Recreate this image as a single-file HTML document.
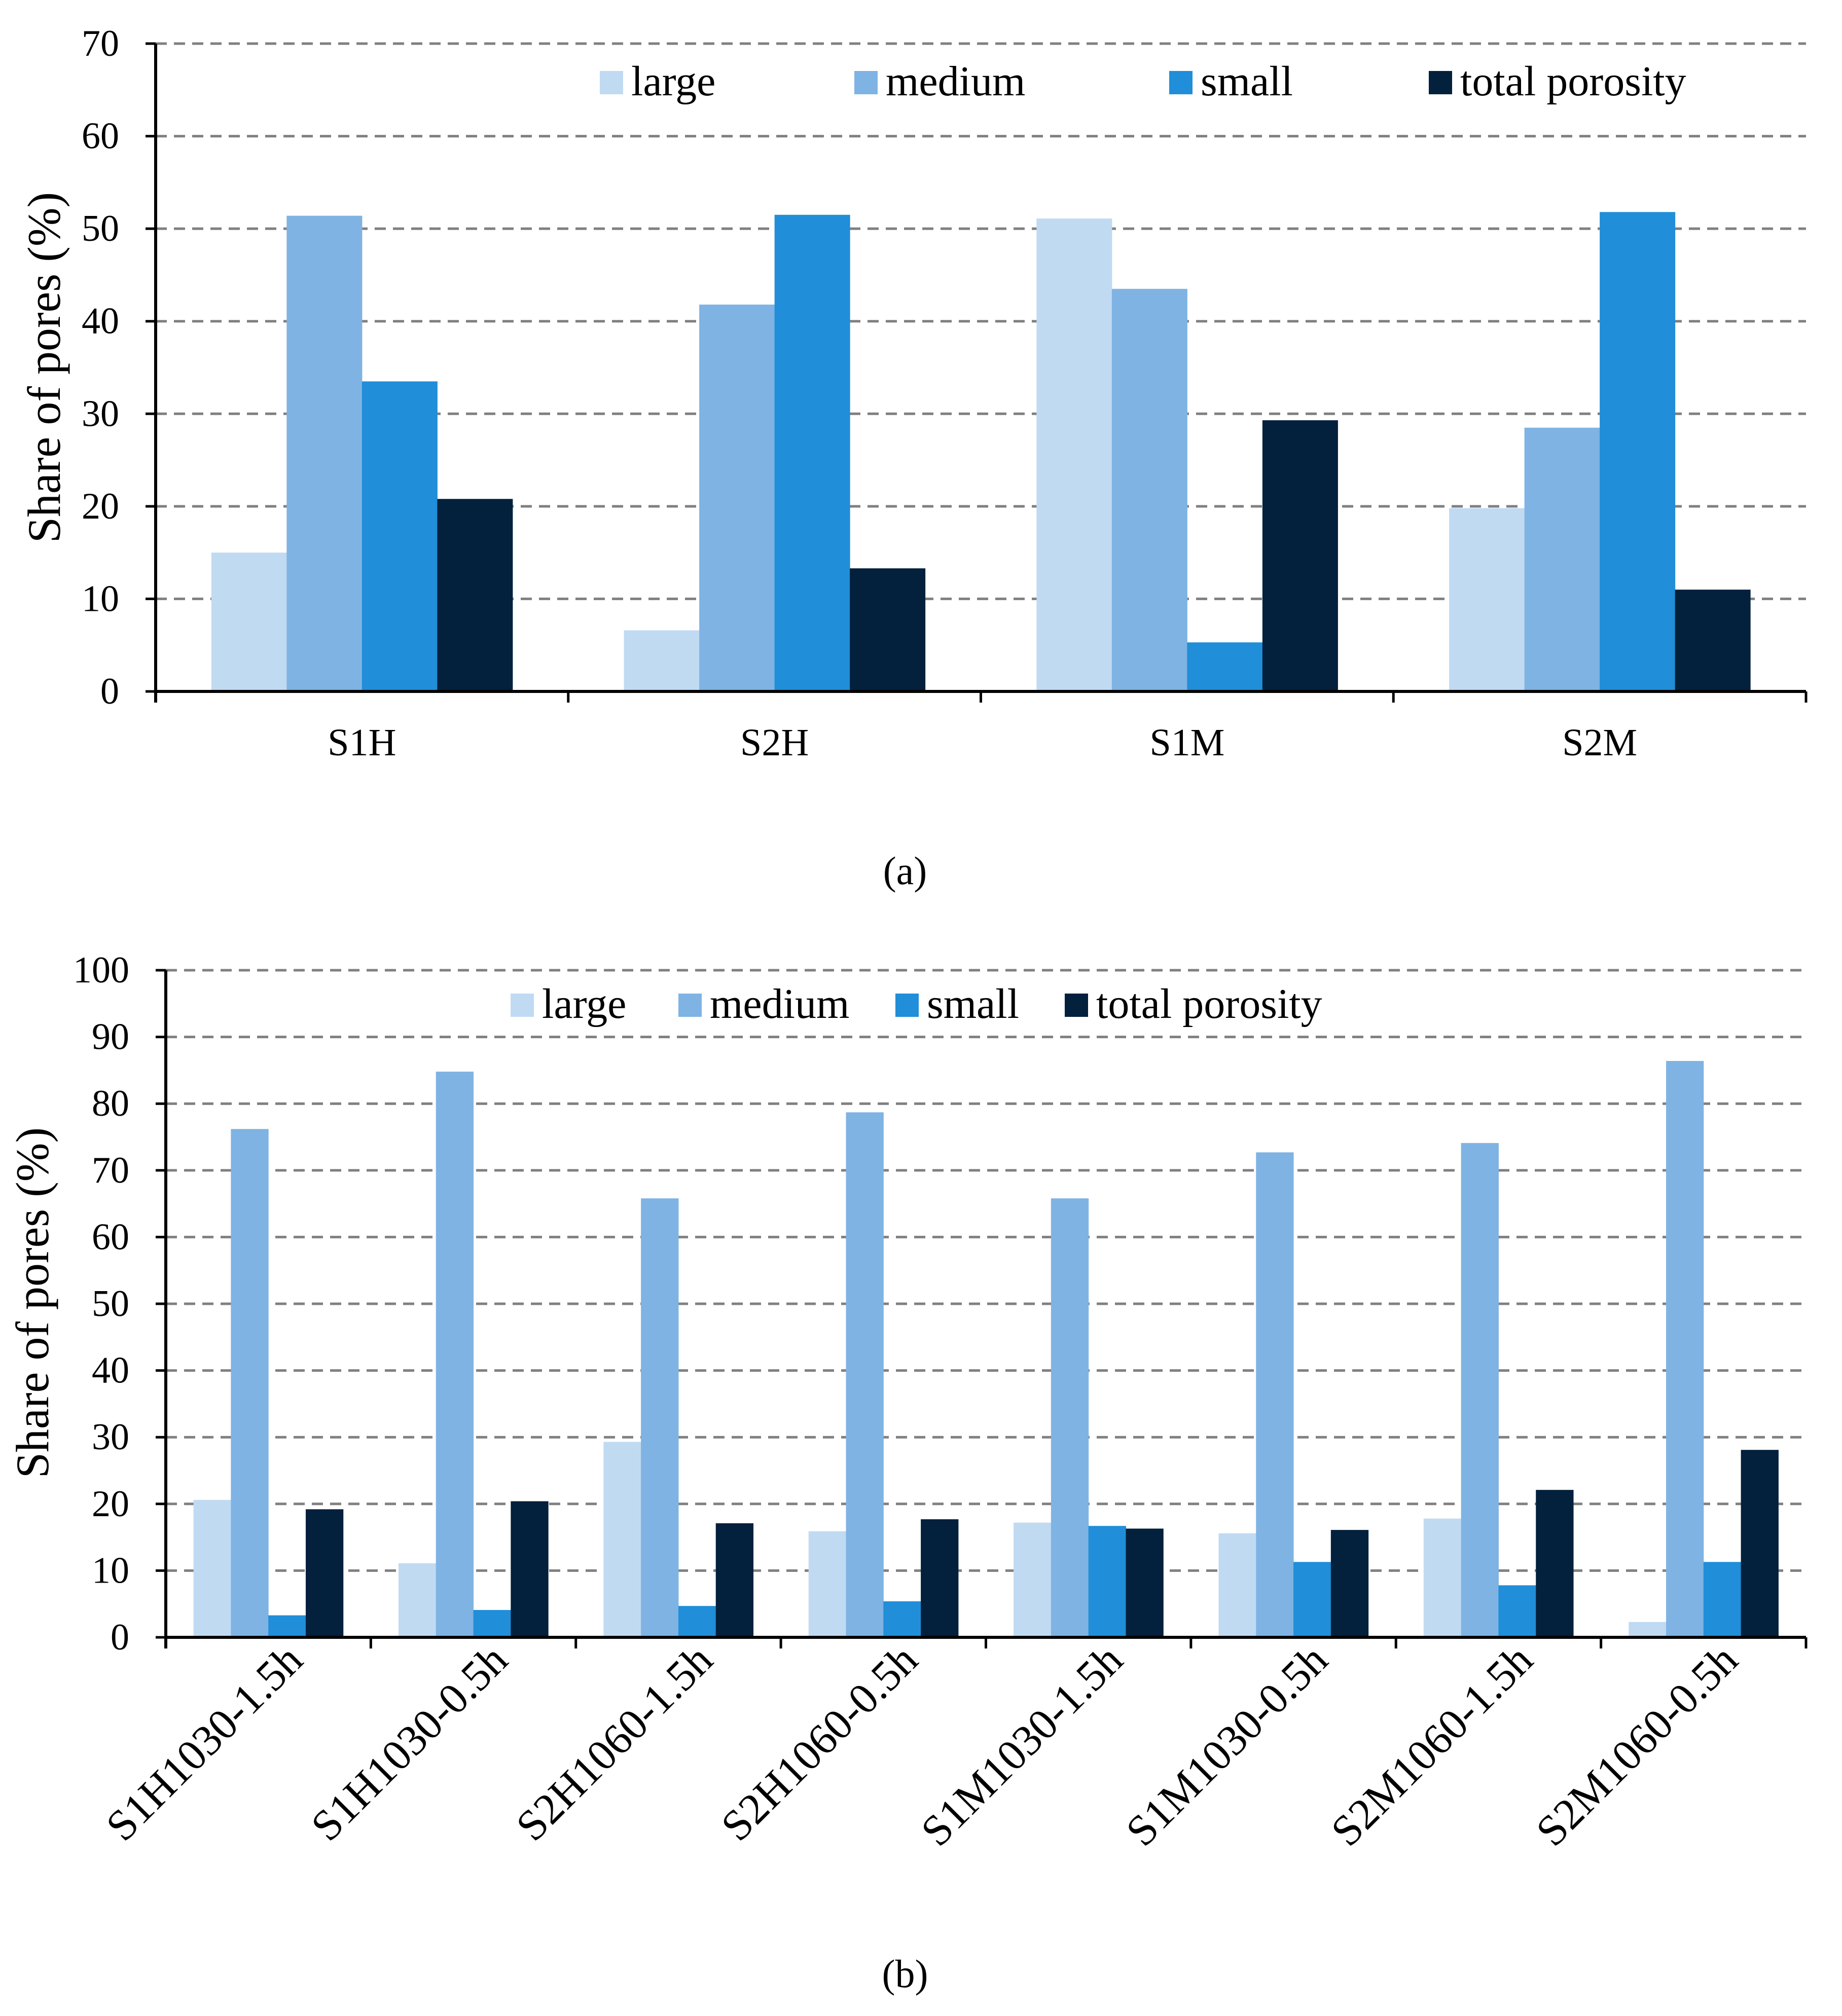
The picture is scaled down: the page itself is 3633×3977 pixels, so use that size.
<!DOCTYPE html>
<html><head><meta charset="utf-8"><style>
html,body{margin:0;padding:0;background:#fff}
svg{display:block}
text{font-family:"Liberation Serif",serif;fill:#000}
</style></head><body>
<svg id="svg" width="3633" height="3977" viewBox="0 0 3633 3977" xmlns="http://www.w3.org/2000/svg"></svg>
<script>
const seriesNames = ["large","medium","small","total porosity"];
const colors = ["#c0daf2","#7fb3e3","#208ed8","#03203c"];
const catsA = ["S1H","S2H","S1M","S2M"];
const largeA = [15.0,6.6,51.1,19.8];
const mediumA = [51.4,41.8,43.5,28.5];
const smallA = [33.5,51.5,5.3,51.8];
const totalA = [20.8,13.3,29.3,11.0];
const ticksA = [0,10,20,30,40,50,60,70];
const catsB = ["S1H1030-1.5h","S1H1030-0.5h","S2H1060-1.5h","S2H1060-0.5h","S1M1030-1.5h","S1M1030-0.5h","S2M1060-1.5h","S2M1060-0.5h"];
const largeB = [20.6,11.1,29.3,15.9,17.2,15.6,17.8,2.3];
const mediumB = [76.2,84.8,65.8,78.7,65.8,72.7,74.1,86.4];
const smallB = [3.3,4.1,4.7,5.4,16.7,11.3,7.8,11.3];
const totalB = [19.2,20.4,17.1,17.7,16.3,16.1,22.1,28.1];
const ticksB = [0,10,20,30,40,50,60,70,80,90,100];

const NS="http://www.w3.org/2000/svg";
const svg=document.getElementById('svg');
function mk(tag,attrs,parent){const e=document.createElementNS(NS,tag);for(const k in attrs)e.setAttribute(k,attrs[k]);(parent||svg).appendChild(e);return e;}

function chart(o){
  const g=mk('g',{});
  
  
  const y=v=>o.y0-(v-o.min)/(o.max-o.min)*(o.y0-o.yTop);
  const gw=(o.x1-o.x0)/o.cats.length;
  o.ticks.forEach(t=>{
    if(t>0){const l=mk('line',{x1:o.x0,x2:o.x1,y1:y(t),y2:y(t),stroke:'#808080','stroke-width':5,'stroke-dasharray':'22 14'},g);
    
    }
    const tk=mk('line',{x1:o.x0-20,x2:o.x0,y1:y(t),y2:y(t),stroke:'#000','stroke-width':5},g);
    
    
    const tx=mk('text',{x:o.x0-72,y:y(t)+24,'text-anchor':'end','font-size':74},g);
    tx.textContent=t;
    
    
  });
  const bw=gw*o.barFrac/4;
  o.cats.forEach((c,i)=>{
    const gx=o.x0+gw*i+(gw-4*bw)/2;
    o.series.forEach((s,j)=>{
      const r=mk('rect',{x:gx+j*bw,y:y(s[i]),width:bw+0.5,height:o.y0-y(s[i]),fill:colors[j]},g);
      
      
    });
    const ct=o.x0+gw*(i+0.5);
    let lb;
    if(o.rot){
      lb=mk('text',{x:ct+72,y:o.y0+50,'text-anchor':'end','font-size':86,transform:'rotate(-45 '+(ct+72)+' '+(o.y0+50)+')'},g);
    } else {
      lb=mk('text',{x:ct,y:o.y0+126,'text-anchor':'middle','font-size':76},g);
    }
    lb.textContent=c;
    
    
  });
  for(let i=0;i<=o.cats.length;i++){
    const tk=mk('line',{x1:o.x0+gw*i,x2:o.x0+gw*i,y1:o.y0,y2:o.y0+22,stroke:'#000','stroke-width':5},g);
    
    
  }
  const ax=mk('line',{x1:o.x0,x2:o.x0,y1:o.yTop,y2:o.y0+22,stroke:'#000','stroke-width':6},g);
  
  
  const bx=mk('line',{x1:o.x0,x2:o.x1,y1:o.y0,y2:o.y0,stroke:'#000','stroke-width':6},g);
  
  
  const yt=mk('text',{x:o.titleX,y:o.titleY,'text-anchor':'middle','font-size':92,transform:'rotate(-90 '+o.titleX+' '+o.titleY+')'},g);
  yt.textContent='Share of pores (%)';
  
  
  seriesNames.forEach((n,j)=>{
    const lx=o.legX[j];
    const sq=mk('rect',{x:lx,y:o.legY-24,width:46,height:46,fill:colors[j]},g);
    
    
    const t=mk('text',{x:lx+62,y:o.legY+24,'font-size':84},g);
    t.textContent=n;
    
    
  });
  const cap=mk('text',{x:1785,y:o.capY,'text-anchor':'middle','font-size':78},g);
  cap.textContent=o.cap;
  
  
}

chart({name:'chart-a',cats:catsA,series:[largeA,mediumA,smallA,totalA],ticks:ticksA,min:0,max:70,
  x0:307,x1:3562,y0:1364,yTop:86,barFrac:0.73,rot:false,titleX:118,titleY:725,
  legX:[1183,1685,2306,2818],legY:164,cap:'(a)',capY:1744});
chart({name:'chart-b',cats:catsB,series:[largeB,mediumB,smallB,totalB],ticks:ticksB,min:0,max:100,
  x0:327,x1:3562,y0:3230,yTop:1914,barFrac:0.73,rot:true,titleX:95,titleY:2570,
  legX:[1007,1338,1766,2100],legY:1984,cap:'(b)',capY:3920});
</script>
</body></html>
